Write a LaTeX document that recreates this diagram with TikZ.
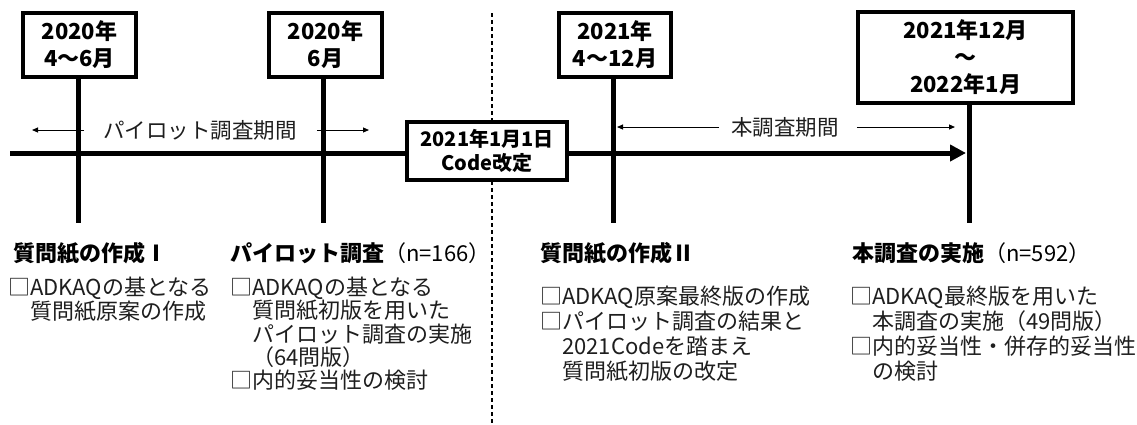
\documentclass[tikz,border=0pt]{standalone}
\usepackage{fontspec}
\setmainfont{Noto Sans CJK JP}
\usetikzlibrary{arrows.meta}
\definecolor{txt}{RGB}{30,30,30}
\begin{document}
\begin{tikzpicture}[x=1pt,y=-1pt,
  datebox/.style={draw=black,line width=3.2pt,fill=white,inner sep=0pt,align=center,
    font=\fontsize{22}{27}\selectfont\bfseries},
  stem/.style={line width=5pt},
  thinarrow/.style={line width=1pt,-{Triangle[length=6pt,width=5pt]}},
  periodtext/.style={inner sep=0pt,text=txt,font=\fontsize{21.5}{24}\selectfont},
  title/.style={anchor=west,inner sep=0pt,font=\fontsize{22}{24}\selectfont},
  body/.style={anchor=north west,inner sep=0pt,align=left,text=txt}
]
\useasboundingbox (0,0) rectangle (1137,424);
% dashed divider
\coordinate (dtop) at (492,13);
\coordinate (dbot) at (492,424);
\draw[line width=1.3pt,dash pattern=on 4pt off 3pt] (dtop) -- (dbot);
% main timeline
\coordinate (mstart) at (10,153);
\coordinate (mtip) at (966,153);
\draw[line width=5pt,-{Triangle[length=16pt,width=16pt]}] (mstart) -- (mtip);
% date boxes
\node[datebox,minimum width=113pt,minimum height=64pt] (b1) at (79.5,45) {2020年\\4～6月};
\node[datebox,minimum width=113pt,minimum height=64pt] (b2) at (325.5,45) {2020年\\6月};
\node[datebox,minimum width=112pt,minimum height=64pt] (b3) at (615,45) {2021年\\4～12月};
\node[datebox,minimum width=215pt,minimum height=91pt] (b4) at (965.5,57.5) {2021年12月\\～\\2022年1月};
\node[datebox,minimum width=160pt,minimum height=58pt,font=\fontsize{20}{24}\selectfont\bfseries] (code) at (487,151) {2021年1月1日\\Code改定};
% stems
\coordinate (s1) at (78,223);
\coordinate (s2) at (323,223);
\coordinate (s3) at (613,223);
\coordinate (s4) at (969,223);
\draw[stem] (b1.south -| s1) -- (s1);
\draw[stem] (b2.south -| s2) -- (s2);
\draw[stem] (b3.south -| s3) -- (s3);
\draw[stem] (b4.south -| s4) -- (s4);
% period arrows
\node[periodtext] (pp) at (200,130) {パイロット調査期間};
\coordinate (ppL) at (32,130);
\coordinate (ppR) at (369,130);
\draw[thinarrow] ([xshift=-19pt]pp.west) -- (ppL);
\draw[thinarrow] ([xshift=20pt]pp.east) -- (ppR);
\node[periodtext] (mp) at (785,127) {本調査期間};
\coordinate (mpL) at (617,127);
\coordinate (mpR) at (955,127);
\draw[thinarrow] ([xshift=-12pt]mp.west) -- (mpL);
\draw[thinarrow] ([xshift=18pt]mp.east) -- (mpR);
% section 1
\node[title] (t1) at (13,253) {\bfseries 質問紙の作成Ⅰ};
\node[body,font=\fontsize{22}{24}\selectfont] (d1) at (8,277) {□ADKAQの基となる\\\hspace*{1em}質問紙原案の作成};
% section 2
\node[title] (t2) at (230,253) {\bfseries パイロット調査\mdseries（n=166）};
\node[body,font=\fontsize{22}{23.2}\selectfont] (d2) at (230,277) {□ADKAQの基となる\\\hspace*{1em}質問紙初版を用いた\\\hspace*{1em}パイロット調査の実施\\\hspace*{1em}（64問版）\\□内的妥当性の検討};
% section 3
\node[title] (t3) at (540,253) {\bfseries 質問紙の作成Ⅱ};
\node[body,font=\fontsize{22}{25}\selectfont] (d3) at (540,286) {□ADKAQ原案最終版の作成\\□パイロット調査の結果と\\\hspace*{1em}2021Codeを踏まえ\\\hspace*{1em}質問紙初版の改定};
% section 4
\node[title] (t4) at (852,253) {\bfseries 本調査の実施\mdseries（n=592）};
\node[body,font=\fontsize{22}{25}\selectfont] (d4) at (850,286) {□ADKAQ最終版を用いた\\\hspace*{1em}本調査の実施（49問版）\\□内的妥当性・併存的妥当性\\\hspace*{1em}の検討};
\end{tikzpicture}
\end{document}
